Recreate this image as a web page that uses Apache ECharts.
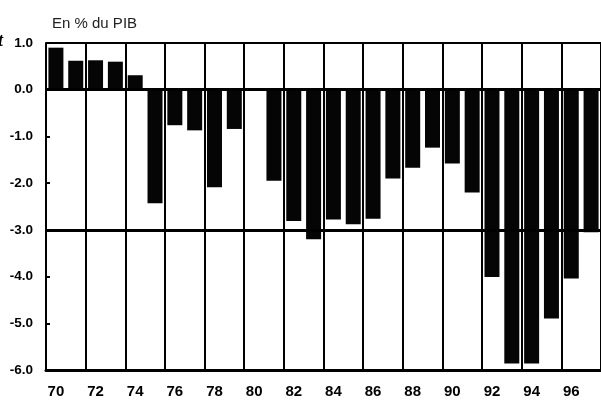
<!DOCTYPE html>
<html>
<head>
<meta charset="utf-8">
<script src="https://cdn.jsdelivr.net/npm/echarts@6/dist/echarts.min.js"></script>
<style>
  html, body { margin: 0; padding: 0; background: #fff; }
  #chart { width: 601px; height: 404px; }
</style>
</head>
<body>
<div id="chart"></div>
<script>
// années (deux derniers chiffres)
const years = ['70','71','72','73','74','75','76','77','78','79',
               '80','81','82','83','84','85','86','87','88','89',
               '90','91','92','93','94','95','96','97']
// solde en % du PIB
const balance = [0.90, 0.62, 0.63, 0.60, 0.31, -2.43, -0.76, -0.87, -2.09, -0.84,
                 0, -1.95, -2.81, -3.20, -2.78, -2.88, -2.76, -1.90, -1.67, -1.24,
                 -1.58, -2.20, -4.01, -5.86, -5.86, -4.90, -4.04, -3.05]
// lignes horizontales de repère
const refLines = [1, 0, -3]

const chart = echarts.init(document.getElementById('chart'))
const font = '"Liberation Sans", Arial, sans-serif'

const options = {
  animation: false,
  title: {
    text: 'En % du PIB',
    left: 47,
    top: 11,
    textStyle: { fontFamily: font, fontSize: 15, fontWeight: 'normal', color: '#222' }
  },
  graphic: [{
    type: 'text',
    left: -2,
    top: 32,
    style: {
      text: 't',
      fontSize: 18,
      fontStyle: 'italic',
      fontWeight: 'bold',
      fontFamily: '"Liberation Serif", serif',
      fill: '#000'
    }
  }],
  grid: {
    left: 46,
    top: 43,
    height: 327,
    width: 560
  },
  xAxis: {
    type: 'category',
    data: years,
    boundaryGap: true,
    axisLine: { onZero: false, lineStyle: { color: '#000', width: 3 } },
    axisTick: { show: false },
    axisLabel: {
      interval: 1,
      margin: 14,
      color: '#000',
      fontFamily: font,
      fontSize: 15,
      fontWeight: 'bold'
    },
    splitLine: {
      show: true,
      interval: 1,
      lineStyle: { color: '#000', width: 2 }
    }
  },
  yAxis: {
    type: 'value',
    min: -6,
    max: 1,
    interval: 1,
    axisLine: { show: true, lineStyle: { color: '#000', width: 2 } },
    axisTick: { show: true, inside: true, length: 4, lineStyle: { color: '#000', width: 2 } },
    splitLine: { show: false },
    axisLabel: {
      margin: 13,
      color: '#000',
      fontFamily: font,
      fontSize: 13.5,
      fontWeight: 'bold',
      formatter: v => v.toFixed(1)
    }
  },
  series: [{
    type: 'bar',
    data: balance,
    barWidth: 15,
    itemStyle: { color: '#050505' },
    markLine: {
      silent: true,
      symbol: 'none',
      label: { show: false },
      lineStyle: { color: '#000', type: 'solid', width: 3 },
      data: refLines.map(v => ({ yAxis: v, lineStyle: { width: v === 1 ? 2 : 3 } }))
    }
  }]
}
chart.setOption(options)
</script>
</body>
</html>
